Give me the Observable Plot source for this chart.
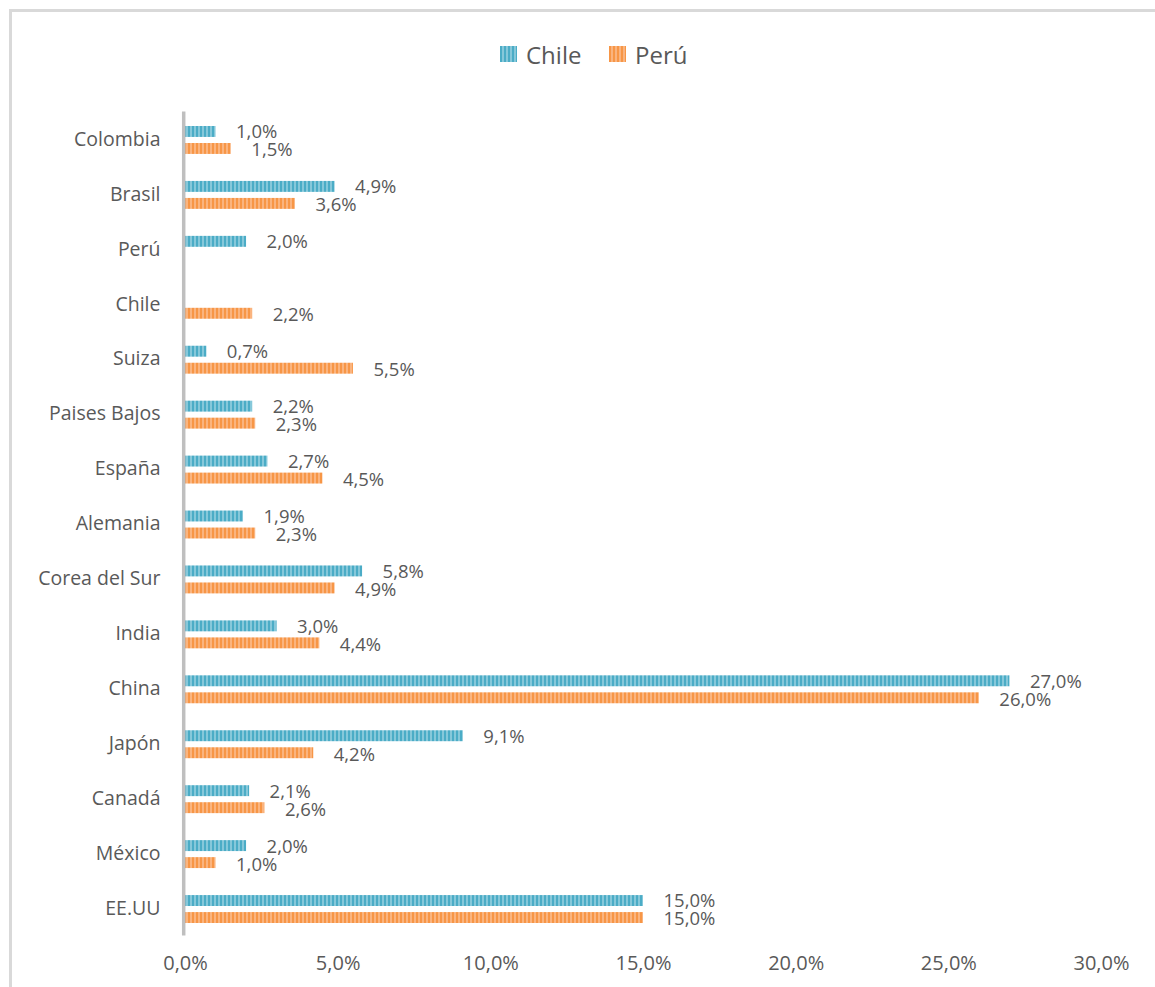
<!DOCTYPE html>
<html>
<head>
<meta charset="utf-8">
<script src="https://cdn.jsdelivr.net/npm/d3@7"></script>
<script src="https://cdn.jsdelivr.net/npm/@observablehq/plot@0.6"></script>
<style>
  html, body { margin: 0; padding: 0; background: #fff; }
  #wrap { position: relative; width: 1155px; height: 987px; overflow: hidden; font-family: "Open Sans", sans-serif; }
  #frame { position: absolute; left: 9px; top: 9px; width: 1200px; height: 1200px; border-left: 3px solid #d9d9d9; border-top: 3px solid #d9d9d9; box-sizing: border-box; }
  #chart { position: absolute; left: 0; top: 0; }
  #legend { position: absolute; top: 38px; left: 0; width: 1155px; height: 32px; }
  .item { position: absolute; top: 0; display: flex; align-items: center; height: 32px; color: #595959; font-size: 24px; }
  .sw { width: 17px; height: 16px; margin-right: 9px; }
</style>
</head>
<body>
<div id="wrap">
  <div id="frame"></div>
  <div id="chart"></div>
  <div id="legend">
    <div class="item" style="left:500px"><div class="sw" style="background: repeating-linear-gradient(90deg, #4bacc6 0 2px, #86c8da 2px 4px);"></div>Chile</div>
    <div class="item" style="left:609px"><div class="sw" style="background: repeating-linear-gradient(90deg, #f79646 0 2px, #fab47f 2px 4px);"></div>Perú</div>
  </div>
</div>
<script>
const countries = ["Colombia", "Brasil", "Perú", "Chile", "Suiza", "Paises Bajos", "España", "Alemania", "Corea del Sur", "India", "China", "Japón", "Canadá", "México", "EE.UU"];
const chileValues = [1.0, 4.9, 2.0, null, 0.7, 2.2, 2.7, 1.9, 5.8, 3.0, 27.0, 9.1, 2.1, 2.0, 15.0];
const peruValues = [1.5, 3.6, null, 2.2, 5.5, 2.3, 4.5, 2.3, 4.9, 4.4, 26.0, 4.2, 2.6, 1.0, 15.0];
const xTicks = [0, 5, 10, 15, 20, 25, 30];

const fmt = v => v.toFixed(1).replace(".", ",") + "%";
const chileData = countries.map((c, i) => ({country: c, value: chileValues[i]})).filter(d => d.value != null);
const peruData = countries.map((c, i) => ({country: c, value: peruValues[i]})).filter(d => d.value != null);

const plot = Plot.plot({
  width: 1155,
  height: 987,
  marginLeft: 185,
  marginRight: 54,
  marginTop: 111.5,
  marginBottom: 51.5,
  style: {fontFamily: "Open Sans, sans-serif", fontSize: "19.5px", color: "#595959", background: "transparent"},
  x: {domain: [0, 30], ticks: xTicks, tickFormat: fmt, tickSize: 0, tickPadding: 20, label: null},
  y: {domain: countries, padding: 0, round: false, tickSize: 0, tickPadding: 25, label: null},
  marks: [
    Plot.barX(chileData, {x: "value", y: "country", fill: "url(#stripeChile)", insetTop: 14.5, insetBottom: 29.5}),
    Plot.barX(peruData, {x: "value", y: "country", fill: "url(#stripePeru)", insetTop: 31.5, insetBottom: 12.5}),
    Plot.text(chileData, {x: "value", y: "country", text: d => fmt(d.value), dx: 20, dy: -7, textAnchor: "start", fill: "#595959", fontSize: 18.5}),
    Plot.text(peruData, {x: "value", y: "country", text: d => fmt(d.value), dx: 20, dy: 11, textAnchor: "start", fill: "#595959", fontSize: 18.5}),
    Plot.ruleX([0], {stroke: "#bfbfbf", strokeWidth: 3.5, dx: -1.8})
  ]
});

const ns = "http://www.w3.org/2000/svg";
const defs = document.createElementNS(ns, "defs");
function addPattern(id, dark, light) {
  const p = document.createElementNS(ns, "pattern");
  p.setAttribute("id", id);
  p.setAttribute("patternUnits", "userSpaceOnUse");
  p.setAttribute("width", "4");
  p.setAttribute("height", "4");
  const r1 = document.createElementNS(ns, "rect");
  r1.setAttribute("x", "0"); r1.setAttribute("y", "0"); r1.setAttribute("width", "2"); r1.setAttribute("height", "4"); r1.setAttribute("fill", dark);
  const r2 = document.createElementNS(ns, "rect");
  r2.setAttribute("x", "2"); r2.setAttribute("y", "0"); r2.setAttribute("width", "2"); r2.setAttribute("height", "4"); r2.setAttribute("fill", light);
  p.appendChild(r1); p.appendChild(r2);
  defs.appendChild(p);
}
addPattern("stripeChile", "#4bacc6", "#86c8da");
addPattern("stripePeru", "#f79646", "#fab47f");
plot.insertBefore(defs, plot.firstChild);

// x tick labels slightly larger, as in the reference
plot.querySelectorAll("[aria-label='x-axis tick label'] text").forEach(t => t.setAttribute("font-size", "20"));

document.getElementById("chart").appendChild(plot);
</script>
</body>
</html>
